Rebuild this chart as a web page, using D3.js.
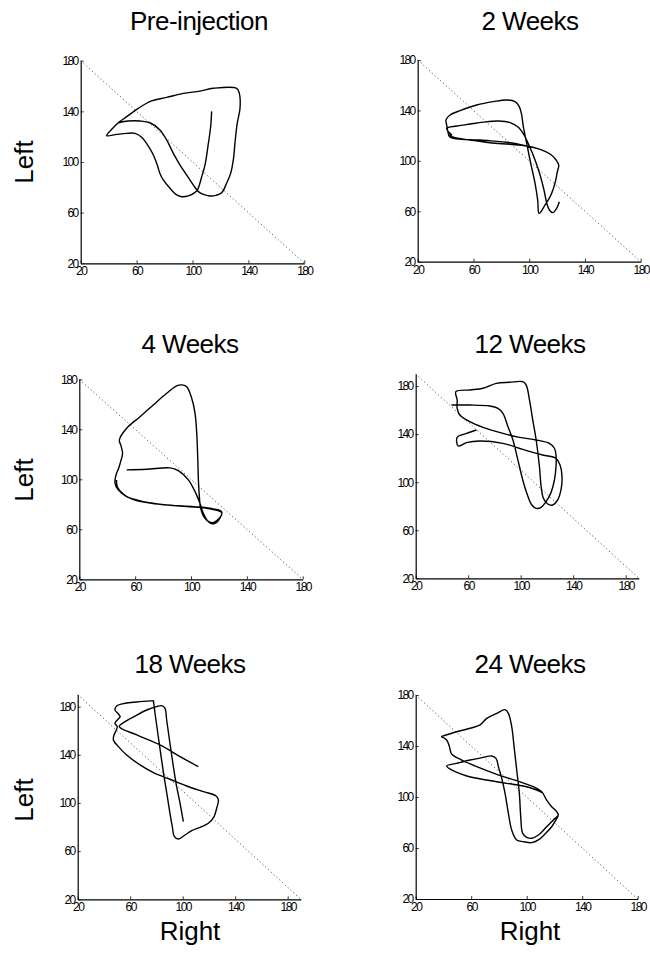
<!DOCTYPE html>
<html><head><meta charset="utf-8">
<script src="https://cdn.jsdelivr.net/npm/d3@7"></script>
<style>
html,body{margin:0;padding:0;background:#fff;}
svg{display:block;}
.tick text{font-family:"Liberation Sans",Arial,sans-serif;font-size:12px;letter-spacing:-1.6px;fill:#000;}
</style></head>
<body>
<svg id="chart" width="650" height="958"></svg>
<script>
// ---------- data ----------
const panelTitles = ["Pre-injection", "2 Weeks", "4 Weeks", "12 Weeks", "18 Weeks", "24 Weeks"];
const tickValues = [20, 60, 100, 140, 180];
const axisMax = [180, 180, 180, 190, 190, 180];
const yLabel = "Left";
const xLabel = "Right";

// [Right, Left] pressure pairs; null = break in the trace
const preInjection = [[113.7,140],[113,128],[111,112],[109,98],[106.5,88],[103.5,78],[100.5,75],[97,73.2],[92.2,72.6],[88.7,74],[83.9,79.2],[79.1,85.8],[76.7,91],[74.8,97.6],[72,105.5],[68.4,112.6],[63.6,119.5],[58.9,122.6],[52.9,122.6],[45.8,121.8],[38.6,120.8],[42.2,125.8],[46.9,131],[52.9,135.8],[61.2,142.4],[70.8,148.2],[81.5,151],[93.4,154.2],[105.4,156],[114.9,158.2],[131.6,158.2],[133.5,154.2],[134,142.4],[132,130.5],[130.6,117.4],[129.2,101.6],[127.3,91],[124.4,83.2],[120.9,75.8],[116.8,73.7],[112.5,73.2],[107.3,74.7],[104.2,76.6],[100.6,81.8],[95.8,89.7],[91.1,97.6],[86.3,106.8],[81.5,117.4],[76.7,125.3],[69.6,131],[62.4,132.4],[54.1,132.4],[46.9,131]];

const weeks2 = [[121.6,67.6],[119.7,62.3],[116.9,58.9],[114.5,61],[112.6,66.3],[110.6,76.9],[107.8,88.8],[104.2,100.7],[100.1,111.8],[96.3,120.5],[92.2,126.6],[86.3,130.3],[77.9,131.6],[67.1,130.7],[57.6,129.2],[48,127.6],[40.8,125.8],[42,123.1],[44.4,120.5],[42.7,120.5],[45.6,118.7],[57.6,116.5],[71.9,114.4],[86.3,113.1],[98.2,111.8],[107.8,109.1],[115,105.4],[119.3,100.7],[121.2,96.7],[120.2,91.4],[118.8,83.5],[116.1,74.2],[115,71.6],[111.4,65],[107.1,58.3],[106.1,68.9],[104.2,82.2],[101.1,98],[98.2,113.9],[95.8,127.1],[94.6,136.4],[92.9,143],[89.8,147],[83.9,148.3],[74.3,147],[62.3,144.3],[50.4,139.8],[43.2,136.4],[40.3,132.4],[40.8,128.4],[41.5,124],[43.2,118.7],[64.7,116.5],[86.3,114.4],[98.2,111.8]];

const weeks4 = [[53.9,107.5],[68.2,108],[85,109.1],[90.9,106.9],[98.1,99.5],[102.9,90.1],[106.4,80.8],[108.8,72.8],[112.4,66.1],[115.5,64.3],[118.9,66.1],[122,74.1],[113.6,76.8],[101.7,78.1],[82.6,79.5],[65.9,82.1],[53.9,86.1],[47.9,91.5],[45.6,96.8],[46.3,103.5],[48.2,108.8],[49.6,114.1],[51,120.8],[49.9,126.7],[48.7,131.5],[53.9,140.8],[63.5,150.1],[73,159.5],[82.6,168.8],[89.7,174.7],[93.3,175.5],[96.9,174.1],[100.5,164.8],[102.9,152.8],[104.1,136.8],[104.8,118.1],[105.3,99.5],[106,86.1],[106.9,76.8],[110,68.8],[114.8,65.3],[120.3,68.8],[122,73.3],[111.2,76.8],[96.9,78.1],[77.8,80],[61.1,82.9],[51.5,88.3],[47.2,94.1],[46.7,99.5]];

const weeks12 = [[66.3,143.4],[58.7,140.6],[51.6,137.3],[52.4,130.1],[58.7,132.9],[68.8,134.3],[86.5,132.3],[101.6,127.3],[116.8,122.6],[126.9,119.8],[130,114.3],[131.5,104.6],[130.7,93.5],[128.2,85.2],[124.4,81],[120.6,81.8],[117.3,86.6],[115.6,96.3],[114.3,112.9],[111.8,135.1],[109.2,151.7],[106.7,168.4],[104.2,180.8],[101.6,183.6],[91.5,183.1],[81.4,182.2],[71.3,178.1],[61.2,176.7],[50.6,175.3],[51.6,168.4],[51.6,161.4],[53.6,155.9],[61.2,150.3],[71.3,145.6],[86.5,140.6],[99.1,137.3],[111.8,135.1],[121.9,132.3],[125.7,128.2],[126.9,122.6],[126.9,112.9],[125.7,101.8],[123.1,91.3],[119.3,83.8],[115.6,79.1],[111.8,78.2],[108.5,81],[104.7,90.7],[101.6,101.8],[97.9,118.4],[94.1,135.1],[90.3,146.2],[86.5,157.3],[82.7,161.4],[76.4,163.4],[61.2,164.2],[47.3,164.2]];

const weeks18 = [[100.5,84.5],[98,99.7],[95.4,113.6],[92.9,130.2],[90.3,149.5],[87.8,168.9],[86.5,178.6],[84,180.8],[80.2,180],[72.6,177.2],[63.7,172.2],[56.1,167.5],[51.7,163.4],[65,156.5],[82.7,148.2],[98,138.5],[111.9,130.2],null,[77.7,185],[65,183.9],[56.1,182.8],[49.7,180.6],[48.4,177.2],[51,173.9],[52.3,171.7],[50.2,168.9],[48.4,166.2],[50.2,163.4],[49.2,160.1],[47.7,156.5],[47.2,152.3],[51,146.8],[57.3,139.9],[67.5,131.6],[77.7,125.2],[90.3,119.7],[103,114.1],[115.7,109.4],[125.4,105.8],[127.2,102.5],[125.9,95.6],[123.9,88.7],[119.6,83.1],[113.2,79.8],[106.9,77],[101.8,73.4],[96.7,70.1],[93.7,72],[92.1,80.3],[90.3,91.4],[88.3,105.3],[85.8,121.9],[83.2,141.2],[80.7,160.6],[78.9,174.5],[77.7,185]];

const weeks24 = [[38.3,147.3],[49.5,151.2],[59.2,153.9],[66.4,156.5],[71.2,161.7],[78.4,165.6],[84.4,168.5],[86.8,165.6],[89.2,155.2],[90.9,139.5],[92.8,121.2],[94.7,102.9],[95.7,84.6],[97.1,71.5],[100,68.4],[103.6,67.6],[108.4,70.2],[114.4,76.7],[119.2,82],[122.8,85.9],[121.6,88.5],[118,92.4],[114.4,97.6],[110.8,104.2],[104.8,108.1],[92.8,112.8],[78.4,117.8],[64,123.8],[53.2,129],[45.9,133.7],[44.3,139.5],[42.3,144.7],[38.3,147.3],null,[110.8,103.7],[107.2,105.5],[97.6,108.6],[85.6,110.7],[71.2,113.3],[56.8,116.5],[45.9,121.2],[42.3,124.3],[49.5,126.4],[59.2,129],[68.8,131.1],[74.8,132.2],[77.9,130.3],[79.6,123.8],[82,114.6],[84.4,102.9],[86.8,87.2],[89.2,74.1],[92.8,66.3],[97.6,65],[103.6,64.2],[108.4,66.3],[113.2,71],[118,76.7],[122.8,85.4]];

const traces = [preInjection, weeks2, weeks4, weeks12, weeks18, weeks24];

// ---------- layout ----------
const boxes = [
  {x0:80.7,  x1:304.3, yTop:60.7,  yBot:263.3, tx:199, ty:30},
  {x0:417.7, x1:640.7, yTop:60,    yBot:261.7, tx:530, ty:30},
  {x0:79.3,  x1:302.7, yTop:379.3, yBot:579.3, tx:190, ty:353},
  {x0:415.7, x1:638.8, yTop:374,   yBot:578.3, tx:530, ty:353},
  {x0:77.7,  x1:300.8, yTop:694.6, yBot:899.3, tx:190, ty:673},
  {x0:415.7, x1:637.7, yTop:695,   yBot:899,   tx:530, ty:673}
];

const svg = d3.select("#chart");
const fontFam = '"Liberation Sans", Arial, Helvetica, sans-serif';

boxes.forEach((b, i) => {
  const mx = axisMax[i];
  const x = d3.scaleLinear().domain([20, mx]).range([b.x0, b.x1]);
  const y = d3.scaleLinear().domain([20, mx]).range([b.yBot, b.yTop]);
  const g = svg.append("g");

  // diagonal identity reference
  g.append("line")
    .attr("x1", x(20)).attr("y1", y(mx))
    .attr("x2", x(mx)).attr("y2", y(20))
    .attr("stroke", "#444").attr("stroke-width", 0.9)
    .attr("stroke-dasharray", "1.2,2.6");

  // axes
  const xa = g.append("g").attr("transform", `translate(0,${b.yBot})`)
    .call(d3.axisBottom(x).tickValues(tickValues).tickSize(-3).tickSizeOuter(0).tickPadding(6));
  const ya = g.append("g").attr("transform", `translate(${b.x0},0)`)
    .call(d3.axisLeft(y).tickValues(tickValues).tickSize(-3).tickSizeOuter(0).tickPadding(3));
  [xa, ya].forEach(a => {
    a.select(".domain").attr("stroke", "#000").attr("stroke-width", 1.2);
    a.selectAll(".tick line").attr("stroke", "#000").attr("stroke-width", 0.8);
  });
  xa.selectAll(".tick text").attr("dy", "0.75em").attr("y", 3);

  // trace
  const line = d3.line()
    .defined(d => d !== null)
    .x(d => x(d[0])).y(d => y(d[1]))
    .curve(d3.curveCatmullRom.alpha(0.5));
  g.append("path").datum(traces[i])
    .attr("d", line)
    .attr("fill", "none").attr("stroke", "#000")
    .attr("stroke-width", 1.4).attr("stroke-linejoin", "round");

  // title
  svg.append("text")
    .attr("x", b.tx).attr("y", b.ty)
    .attr("text-anchor", "middle")
    .attr("font-family", fontFam).attr("font-size", 26)
    .attr("letter-spacing", -0.5)
    .text(panelTitles[i]);
});

// y labels
[162, 480, 800].forEach(cy => {
  svg.append("text")
    .attr("transform", `translate(33,${cy}) rotate(-90)`)
    .attr("text-anchor", "middle")
    .attr("font-family", fontFam).attr("font-size", 26)
    .text(yLabel);
});
// x labels
[190, 530].forEach(cx => {
  svg.append("text")
    .attr("x", cx).attr("y", 940)
    .attr("text-anchor", "middle")
    .attr("font-family", fontFam).attr("font-size", 26)
    .text(xLabel);
});
</script>
</body></html>
